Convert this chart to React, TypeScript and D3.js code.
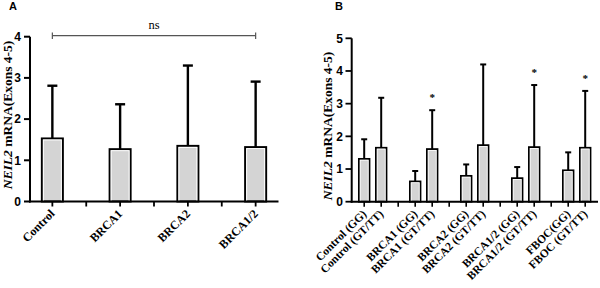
import React from "react";
import * as d3 from "d3";

// Panel A
const slotsA = ["Control", "gA1", "BRCA1", "gA2", "BRCA2", "gA3", "BRCA1/2"];
const catsA = ["Control", "BRCA1", "BRCA2", "BRCA1/2"];
const meanA = [1.53, 1.27, 1.35, 1.32];
const errA = [1.28, 1.09, 1.95, 1.59];
const ticksA = [0, 1, 2, 3, 4];

// Panel B
const slotsB = [
  "Control (GG)", "Control (GT/TT)", "gB1",
  "BRCA1 (GG)", "BRCA1 (GT/TT)", "gB2",
  "BRCA2 (GG)", "BRCA2 (GT/TT)", "gB3",
  "BRCA1/2 (GG)", "BRCA1/2 (GT/TT)", "gB4",
  "FBOC(GG)", "FBOC (GT/TT)",
];
const catsB = [
  "Control (GG)", "Control (GT/TT)",
  "BRCA1 (GG)", "BRCA1 (GT/TT)",
  "BRCA2 (GG)", "BRCA2 (GT/TT)",
  "BRCA1/2 (GG)", "BRCA1/2 (GT/TT)",
  "FBOC(GG)", "FBOC (GT/TT)",
];
const meanB = [1.31, 1.65, 0.62, 1.61, 0.79, 1.73, 0.72, 1.67, 0.96, 1.65];
const errB = [0.6, 1.53, 0.32, 1.19, 0.35, 2.47, 0.34, 1.9, 0.55, 1.74];
const starsB = ["BRCA1 (GT/TT)", "BRCA1/2 (GT/TT)", "FBOC (GT/TT)"];
const ticksB = [0, 1, 2, 3, 4, 5];

const SERIF = "'Liberation Serif', 'Times New Roman', serif";
const SANS = "'Liberation Sans', Arial, sans-serif";
const FILL = "#d4d4d4";

function YLabel({ x, y, size }: { x: number; y: number; size: number }) {
  return (
    <text
      transform={`translate(${x},${y}) rotate(-90)`}
      textAnchor="middle"
      fontFamily={SERIF}
      fontWeight="bold"
      fontSize={size}
      fill="#000"
    >
      <tspan fontStyle="italic">NEIL2</tspan>
      <tspan> mRNA(Exons 4-5)</tspan>
    </text>
  );
}

export default function App() {
  // Panel A scales
  const xA = d3.scalePoint<string>().domain(slotsA).range([30, 278]).padding(0.66);
  const yA = d3.scaleLinear().domain([0, 4]).range([201.5, 36.7]);
  // Panel B scales
  const xB = d3.scalePoint<string>().domain(slotsB).range([351.7, 597.7]).padding(0.735);
  const yB = d3.scaleLinear().domain([0, 5]).range([201.7, 38.3]);

  const bwA = 21;
  const bwB = 10.6;

  return (
    <svg
      width={600}
      height={288}
      style={{ position: "fixed", left: 0, top: 0, background: "#fff" }}
    >
      <rect x={0} y={0} width={600} height={288} fill="#fff" />
      {/* ===== Panel A ===== */}
      <text x={9} y={10} fontFamily={SANS} fontWeight="bold" fontSize={11}>A</text>
      <YLabel x={11.5} y={115} size={13.5} />
      {/* bars */}
      {catsA.map((c, i) => {
        const cx = xA(c)!;
        const top = yA(meanA[i]);
        const bot = yA(0);
        const etop = yA(meanA[i] + errA[i]);
        return (
          <g key={c}>
            <line x1={cx} x2={cx} y1={top} y2={etop} stroke="#000" strokeWidth={2.4} />
            <line x1={cx - 5} x2={cx + 5} y1={etop} y2={etop} stroke="#000" strokeWidth={2.4} />
            <rect x={cx - bwA / 2} y={top} width={bwA} height={bot - top} fill={FILL} stroke="#000" strokeWidth={2} />
            <rect x={cx - bwA / 2 + 1.5} y={top + 1.5} width={bwA - 3} height={bot - top - 1.5} fill="none" stroke="#fff" strokeWidth={1} />
          </g>
        );
      })}
      {/* axes A */}
      <line x1={30} x2={30} y1={yA(4)} y2={yA(0) + 1} stroke="#000" strokeWidth={2} />
      <line x1={29} x2={278.5} y1={yA(0)} y2={yA(0)} stroke="#000" strokeWidth={2} />
      {ticksA.map((t) => (
        <g key={t}>
          <line x1={24} x2={30} y1={yA(t)} y2={yA(t)} stroke="#000" strokeWidth={2} />
          <text x={21} y={yA(t)} dy="0.36em" textAnchor="end" fontFamily={SANS} fontWeight="bold" fontSize={12}>
            {t}
          </text>
        </g>
      ))}
      {slotsA.map((s) => (
        <line key={s} x1={xA(s)!} x2={xA(s)!} y1={yA(0)} y2={yA(0) + 5} stroke="#000" strokeWidth={1.8} />
      ))}
      {catsA.map((c) => (
        <text
          key={c}
          transform={`translate(${xA(c)! + 3},${yA(0) + 13}) rotate(-45)`}
          textAnchor="end"
          fontFamily={SERIF}
          fontWeight="bold"
          fontSize={12}
        >
          {c}
        </text>
      ))}
      {/* ns bracket */}
      <g stroke="#555" strokeWidth={1.2}>
        <line x1={xA(catsA[0])!} x2={xA(catsA[3])!} y1={35.7} y2={35.7} />
        <line x1={xA(catsA[0])!} x2={xA(catsA[0])!} y1={32.5} y2={39} />
        <line x1={xA(catsA[3])!} x2={xA(catsA[3])!} y1={32.5} y2={39} />
      </g>
      <text x={(xA(catsA[0])! + xA(catsA[3])!) / 2} y={29} textAnchor="middle" fontFamily={SERIF} fontSize={12.5}>
        ns
      </text>

      {/* ===== Panel B ===== */}
      <text x={335} y={10} fontFamily={SANS} fontWeight="bold" fontSize={11}>B</text>
      <YLabel x={332} y={126} size={13.5} />
      {catsB.map((c, i) => {
        const cx = xB(c)!;
        const top = yB(meanB[i]);
        const bot = yB(0);
        const etop = yB(meanB[i] + errB[i]);
        return (
          <g key={c}>
            <line x1={cx} x2={cx} y1={top} y2={etop} stroke="#000" strokeWidth={2} />
            <line x1={cx - 3} x2={cx + 3} y1={etop} y2={etop} stroke="#000" strokeWidth={2} />
            <rect x={cx - bwB / 2} y={top} width={bwB} height={bot - top} fill={FILL} stroke="#000" strokeWidth={1.8} />
            <rect x={cx - bwB / 2 + 1.3} y={top + 1.3} width={bwB - 2.6} height={bot - top - 1.3} fill="none" stroke="#fff" strokeWidth={0.8} />
            {starsB.includes(c) && (
              <text x={cx} y={etop - 15.5} dy="0.6em" textAnchor="middle" fontFamily={SERIF} fontWeight="bold" fontSize={11}>
                *
              </text>
            )}
          </g>
        );
      })}
      <line x1={351.7} x2={351.7} y1={yB(5)} y2={yB(0) + 1} stroke="#000" strokeWidth={2} />
      <line x1={350.7} x2={598} y1={yB(0)} y2={yB(0)} stroke="#000" strokeWidth={2} />
      {ticksB.map((t) => (
        <g key={t}>
          <line x1={345.5} x2={351.7} y1={yB(t)} y2={yB(t)} stroke="#000" strokeWidth={1.8} />
          <text x={343} y={yB(t)} dy="0.36em" textAnchor="end" fontFamily={SANS} fontWeight="bold" fontSize={12}>
            {t}
          </text>
        </g>
      ))}
      {slotsB.map((s) => (
        <line key={s} x1={xB(s)!} x2={xB(s)!} y1={yB(0)} y2={yB(0) + 5} stroke="#000" strokeWidth={1.6} />
      ))}
      {catsB.map((c) => (
        <text
          key={c}
          transform={`translate(${xB(c)! + 3},${yB(0) + 13}) rotate(-45)`}
          textAnchor="end"
          fontFamily={SERIF}
          fontWeight="bold"
          fontSize={11.5}
        >
          {c}
        </text>
      ))}
    </svg>
  );
}
